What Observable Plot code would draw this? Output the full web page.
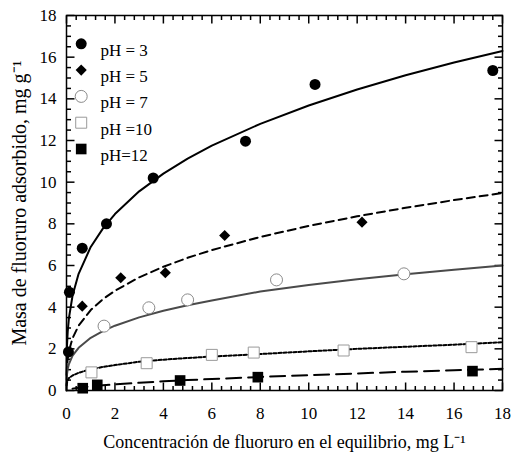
<!DOCTYPE html>
<html><head><meta charset="utf-8">
<script src="https://cdn.jsdelivr.net/npm/d3@7"></script>
<script src="https://cdn.jsdelivr.net/npm/@observablehq/plot@0.6"></script>
<style>
body{margin:0;background:#fff}
#chart svg, #chart svg text{font-family:"Liberation Serif","Times New Roman",serif !important;}
#chart svg text{font-size:17px;}
#chart g[aria-label="x-axis label"] text{font-size:18px !important;}
#chart g[aria-label="y-axis label"] text{font-size:20px !important;}
</style>
</head><body><div id="chart"></div>
<script>
// ---- data ----
const seriesNames = ["pH = 3", "pH = 5", "pH = 7", "pH =10", "pH=12"];

// measured points
const ph3X = [0.08, 0.12, 0.65, 1.65, 3.58, 7.39, 10.26, 17.6];
const ph3Y = [1.85, 4.72, 6.83, 8.0, 10.2, 11.97, 14.69, 15.36];
const ph5X = [0.65, 2.24, 4.08, 6.53, 12.2];
const ph5Y = [4.05, 5.41, 5.65, 7.44, 8.08];
const ph7X = [1.55, 3.40, 5.0, 8.67, 13.93];
const ph7Y = [3.09, 3.97, 4.35, 5.31, 5.6];
const ph10X = [1.03, 3.31, 6.0, 7.73, 11.44, 16.72];
const ph10Y = [0.87, 1.31, 1.71, 1.82, 1.92, 2.08];
const ph12X = [0.67, 1.27, 4.69, 7.9, 16.76];
const ph12Y = [0.11, 0.27, 0.48, 0.64, 0.93];

// fitted curves
const curveX   = [0, 0.005, 0.02, 0.05, 0.1, 0.25, 0.5, 1, 1.5, 2, 3, 4, 5, 6, 8, 10, 12, 14, 16, 18];
const curve3Y  = [0, 1.42, 2.15, 2.82, 3.47, 4.56, 5.60, 6.89, 7.77, 8.47, 9.56, 10.41, 11.13, 11.75, 12.80, 13.68, 14.45, 15.13, 15.74, 16.30];
const curve5Y  = [null, 0.74, 1.14, 1.52, 1.89, 2.51, 3.11, 3.86, 4.38, 4.79, 5.43, 5.94, 6.37, 6.74, 7.37, 7.90, 8.36, 8.77, 9.14, 9.48];
const curve7Y  = [null, 0.52, 0.78, 1.03, 1.27, 1.67, 2.05, 2.53, 2.85, 3.11, 3.51, 3.83, 4.09, 4.32, 4.75, 5.06, 5.34, 5.58, 5.80, 6.00];
const curve10Y = [null, 0.25, 0.37, 0.48, 0.60, 0.72, 0.85, 1.02, 1.13, 1.22, 1.38, 1.48, 1.56, 1.63, 1.75, 1.88, 2.00, 2.10, 2.20, 2.32];
const curve12Y = [null, null, null, null, null, 0.09, 0.13, 0.20, 0.25, 0.29, 0.37, 0.44, 0.50, 0.55, 0.65, 0.74, 0.82, 0.90, 0.97, 1.04];

const xTicks = [0, 2, 4, 6, 8, 10, 12, 14, 16, 18];
const yTicks = [0, 2, 4, 6, 8, 10, 12, 14, 16, 18];
const xMinor = [0.4, 0.8, 1.2, 1.6, 2.4, 2.8, 3.2, 3.6, 4.4, 4.8, 5.2, 5.6, 6.4, 6.8, 7.2, 7.6, 8.4, 8.8, 9.2, 9.6,
  10.4, 10.8, 11.2, 11.6, 12.4, 12.8, 13.2, 13.6, 14.4, 14.8, 15.2, 15.6, 16.4, 16.8, 17.2, 17.6];
const yMinor = [0.5, 1, 1.5, 2.5, 3, 3.5, 4.5, 5, 5.5, 6.5, 7, 7.5, 8.5, 9, 9.5, 10.5, 11, 11.5, 12.5, 13, 13.5,
  14.5, 15, 15.5, 16.5, 17, 17.5];

// ---- layout & styles ----
const W = 512, H = 455, mL = 66, mR = 10, mT = 15, mB = 65;
const DOMAIN = [0, 18];
const xPerPx = (DOMAIN[1] - DOMAIN[0]) / (W - mL - mR);
const yPerPx = (DOMAIN[1] - DOMAIN[0]) / (H - mT - mB);
const pointStyle = [
  {symbol: "circle", r: 5.5, fill: "black", stroke: "none"},
  {symbol: "diamond2", r: 5, fill: "black", stroke: "none"},
  {symbol: "circle", r: 6, fill: "white", stroke: "#8a8a8a", strokeWidth: 1},
  {symbol: "square", r: 6.2, fill: "white", stroke: "#9a9a9a", strokeWidth: 1},
  {symbol: "square", r: 6, fill: "black", stroke: "none"}
];
const lineStyle = [
  {stroke: "black", strokeWidth: 2},
  {stroke: "black", strokeWidth: 2, strokeDasharray: "8,5"},
  {stroke: "#4a4a4a", strokeWidth: 2},
  {stroke: "black", strokeWidth: 2, strokeDasharray: "3,2"},
  {stroke: "black", strokeWidth: 2, strokeDasharray: "15,7"}
];
const FS = 17;

const pts = [[ph3X, ph3Y], [ph5X, ph5Y], [ph7X, ph7Y], [ph10X, ph10Y], [ph12X, ph12Y]]
  .map(([xs, ys], i) => xs.map((x, j) => ({x, y: ys[j], s: i})));
const curves = [curve3Y, curve5Y, curve7Y, curve10Y, curve12Y]
  .map((ys, i) => curveX.map((x, j) => ({x, y: ys[j], s: i})));

// inward tick segments (in data units derived from the frame size)
const tickSegs = [];
for (const [xs, ys, L] of [[xMinor, yMinor, 4.5], [xTicks, yTicks, 8]]) {
  const ly = L * yPerPx, lx = L * xPerPx;
  for (const v of xs) {
    tickSegs.push({x1: v, x2: v, y1: DOMAIN[0], y2: DOMAIN[0] + ly});
    tickSegs.push({x1: v, x2: v, y1: DOMAIN[1], y2: DOMAIN[1] - ly});
  }
  for (const v of ys) {
    tickSegs.push({x1: DOMAIN[0], x2: DOMAIN[0] + lx, y1: v, y2: v});
    tickSegs.push({x1: DOMAIN[1], x2: DOMAIN[1] - lx, y1: v, y2: v});
  }
}

const marks = [];
marks.push(Plot.link(tickSegs, {x1: "x1", x2: "x2", y1: "y1", y2: "y2", stroke: "black", strokeWidth: 1.5}));
marks.push(Plot.axisX({anchor: "bottom", ticks: xTicks, tickSize: 0, tickPadding: 16,
  label: "Concentración de fluoruro en el equilibrio, mg L⁻¹", labelAnchor: "center", labelArrow: "none", labelOffset: 57}));
marks.push(Plot.axisY({anchor: "left", ticks: yTicks, tickSize: 0, tickPadding: 10,
  label: "Masa de fluoruro adsorbido, mg g⁻¹", labelAnchor: "center", labelArrow: "none", labelOffset: 55}));

curves.forEach((c, i) => marks.push(Plot.line(c, {x: "x", y: "y", ...lineStyle[i]})));
pts.forEach((p, i) => marks.push(Plot.dot(p, {x: "x", y: "y", ...pointStyle[i]})));

// legend inside the frame
seriesNames.forEach((name, i) => {
  marks.push(Plot.dot([name], {frameAnchor: "top-left", dx: 14.7, dy: 28.3 + i * 26.3, ...pointStyle[i]}));
  marks.push(Plot.text([name], {frameAnchor: "top-left", dx: 34, dy: 28.3 + i * 26.3, text: d => d,
    textAnchor: "start", fontSize: FS, fill: "black"}));
});
marks.push(Plot.frame({stroke: "black", strokeWidth: 1.5}));

const chart = Plot.plot({
  width: W, height: H,
  marginLeft: mL, marginRight: mR, marginTop: mT, marginBottom: mB,
  style: {fontFamily: "'Liberation Serif', serif", fontSize: FS + "px", color: "black", background: "white"},
  x: {domain: DOMAIN},
  y: {domain: DOMAIN},
  marks
});
document.getElementById("chart").append(chart);
</script>
</body></html>
